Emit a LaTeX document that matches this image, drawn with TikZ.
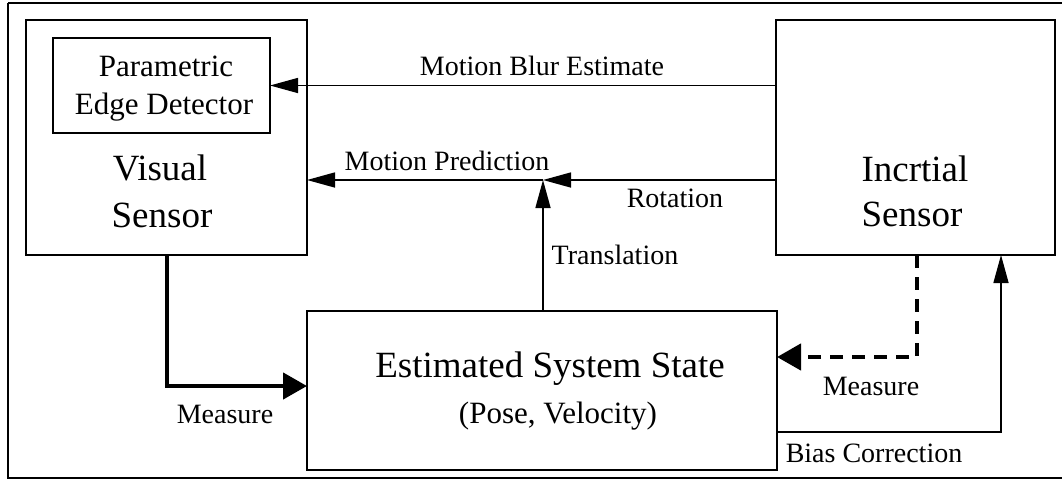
\documentclass[tikz,border=0pt]{standalone}
\usepackage{fontspec}
\setmainfont{Liberation Serif}
\usetikzlibrary{arrows.meta,calc}
\begin{document}
\begin{tikzpicture}[x=1pt,y=-1pt,
  box/.style={draw,line width=1.6pt,rectangle,inner sep=0pt,outer sep=0pt},
  lbl/.style={anchor=base,inner sep=0pt,font=\fontsize{28}{30}\selectfont},
  big/.style={anchor=base,inner sep=0pt,font=\fontsize{37}{40}\selectfont},
  mid/.style={anchor=base,inner sep=0pt,font=\fontsize{31}{34}\selectfont},
  thinarrow/.style={line width=1.5pt,-{Triangle[length=28pt,width=15pt]}},
  thickarrow/.style={line width=4.5pt,-{Triangle[length=24pt,width=26pt]}},
  dasharrow/.style={line width=4.5pt,dash pattern=on 13pt off 9pt,-{Triangle[length=24pt,width=26pt]}}
]
\useasboundingbox (0,0) rectangle (1062,480);
\draw[line width=1.3pt] (8,3) -- (1070,3);
\draw[line width=1.3pt] (8,3) -- (8,478) -- (1070,478);

% boxes
\node[box,minimum width=281pt,minimum height=235pt] (vis) at (166.5,137.5) {};
\node[box,minimum width=217pt,minimum height=95pt] (ped) at (161.5,85.5) {};
\node[box,minimum width=279pt,minimum height=235pt] (ins) at (915.5,137.5) {};
\node[box,minimum width=470pt,minimum height=159pt] (est) at (542,390.5) {};

% box texts
\node[mid] (t1) at (166,76) {Parametric};
\node[mid] (t2) at (164,114) {Edge Detector};
\node[big] (t3) at (160,180) {Visual};
\node[big] (t4) at (162,227) {Sensor};
\node[big] (t5) at (915,181) {Incrtial};
\node[big] (t6) at (912,226) {Sensor};
\node[big] (t7) at (550,377) {Estimated System State};
\node[mid] (t8) at (558,423) {(Pose, Velocity)};

% coordinates
\coordinate (j) at (543,180);
\coordinate (m1) at (167,386);
\coordinate (d1) at (917,357);
\coordinate (b1) at (1001,432);

% connectors
\draw[thinarrow] (ins.west |- ped.east) -- (ped.east);
\draw[thinarrow] (ins.west |- j) -- (j);
\draw[thinarrow] (j) -- (vis.east |- j);
\draw[thinarrow] (est.north -| j) -- (j);
\draw[thickarrow] (vis.south -| m1) |- (est.west |- m1);
\draw[dasharrow] (ins.south -| d1) |- (est.east |- d1);
\draw[thinarrow] (est.east |- b1) -| (ins.south -| b1);

% labels
\node[lbl] (l1) at (542,75) {Motion Blur Estimate};
\node[lbl] (l2) at (447,170) {Motion Prediction};
\node[lbl] (l3) at (675,207) {Rotation};
\node[lbl] (l4) at (615,264) {Translation};
\node[lbl] (l5) at (225,423) {Measure};
\node[lbl] (l6) at (871,395) {Measure};
\node[lbl] (l7) at (874,462) {Bias Correction};
\end{tikzpicture}
\end{document}
